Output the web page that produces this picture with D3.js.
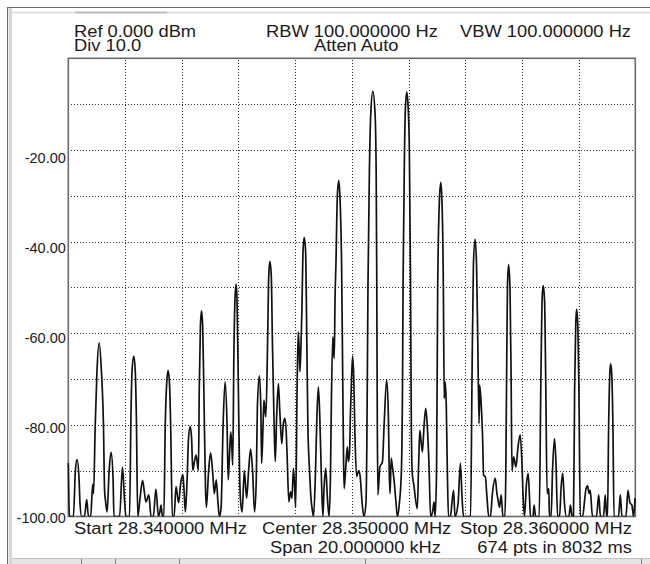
<!DOCTYPE html>
<html>
<head>
<meta charset="utf-8">
<script src="https://cdn.jsdelivr.net/npm/d3@7"></script>
<style>
  body { margin: 0; background: #fff; }
  svg { display: block; }
  text { font-family: "Liberation Sans", Arial, sans-serif; fill: #1a1a1a; }
</style>
</head>
<body>
<div id="chart"></div>
<script>
// instrument readouts around the screen
var headerTop = ["Ref 0.000 dBm", "RBW 100.000000 Hz", "VBW 100.000000 Hz"]
var headerBottom = ["Div 10.0", "Atten Auto"]
var footerTop = ["Start 28.340000 MHz", "Center 28.350000 MHz", "Stop 28.360000 MHz"]
var footerBottom = ["Span 20.000000 kHz", "674 pts in 8032 ms"]

// axes: frequency offset from start (kHz), level (dBm)
var spanKHz = [0, 20]
var levelRange = [-100, 0]
var yLabels = [-20, -40, -60, -80, -100]

// trace vertices: [kHz from start, dBm]
var trace = [
  [0.00, -88.3], [0.04, -100], [0.18, -100], [0.25, -90], [0.31, -87.6], [0.38, -92], [0.41, -96.8],
  [0.47, -100], [0.57, -100], [0.65, -96.3], [0.71, -100], [0.79, -100], [0.86, -93], [0.89, -95],
  [0.95, -80], [1.01, -68.5], [1.09, -62.1], [1.17, -68.5], [1.24, -80], [1.28, -94.3], [1.32, -97],
  [1.37, -99], [1.44, -90], [1.51, -86], [1.58, -92], [1.61, -100], [1.81, -100], [1.91, -89.2],
  [1.98, -96], [2.03, -100], [2.16, -100], [2.21, -78], [2.25, -68], [2.31, -65], [2.36, -68],
  [2.40, -78], [2.45, -100], [2.53, -96], [2.62, -92.1], [2.69, -95], [2.74, -96.8], [2.84, -95.3],
  [2.92, -100], [3.00, -100], [3.09, -94], [3.18, -100], [3.23, -99], [3.27, -97.5], [3.32, -100],
  [3.37, -100], [3.42, -80], [3.47, -71], [3.52, -68.1], [3.57, -71], [3.61, -80], [3.67, -100],
  [3.73, -100], [3.80, -93.5], [3.89, -97], [3.96, -93], [4.04, -90.8], [4.08, -94], [4.13, -99],
  [4.19, -92], [4.24, -83], [4.30, -80.4], [4.35, -83], [4.39, -89.9], [4.45, -88], [4.51, -86.6],
  [4.59, -90], [4.62, -72], [4.66, -58.5], [4.70, -55.1], [4.74, -58.5], [4.78, -72], [4.84, -94],
  [4.87, -98], [4.95, -90], [5.02, -86.1], [5.10, -91], [5.15, -95], [5.22, -92], [5.28, -97],
  [5.33, -100], [5.39, -98], [5.46, -80], [5.53, -70.6], [5.60, -80], [5.64, -92], [5.69, -86],
  [5.73, -81.5], [5.77, -85], [5.80, -88.8], [5.84, -65], [5.88, -52.5], [5.92, -49.3], [5.95, -52.5],
  [5.99, -68], [6.04, -90], [6.07, -96], [6.13, -99], [6.21, -90], [6.29, -96], [6.36, -90],
  [6.43, -85.3], [6.50, -90], [6.57, -99], [6.63, -92], [6.67, -76], [6.74, -69.3], [6.79, -76],
  [6.82, -88.4], [6.87, -80], [6.90, -74.6], [6.94, -77], [6.97, -78.2], [7.03, -62], [7.07, -47.5],
  [7.11, -44.3], [7.16, -47.5], [7.20, -62], [7.26, -80], [7.30, -88], [7.35, -78], [7.41, -71],
  [7.46, -77], [7.53, -84.1], [7.58, -80], [7.64, -78.6], [7.69, -82], [7.72, -87], [7.78, -96.8],
  [7.84, -94.6], [7.89, -96], [7.94, -89.5], [7.98, -93], [8.02, -98], [8.07, -72], [8.11, -59.7],
  [8.14, -63], [8.17, -68.4], [8.21, -62], [8.24, -55], [8.28, -42], [8.32, -39.1], [8.37, -42],
  [8.41, -60], [8.45, -80], [8.51, -90], [8.56, -96], [8.61, -98.7], [8.65, -100], [8.72, -90],
  [8.77, -78], [8.82, -71.7], [8.87, -78], [8.93, -92], [8.98, -100], [9.02, -94], [9.08, -89.5],
  [9.14, -96], [9.20, -100], [9.25, -90], [9.28, -75], [9.33, -60.8], [9.35, -63], [9.38, -65.5],
  [9.41, -52], [9.44, -45], [9.49, -30], [9.54, -26.7], [9.58, -30], [9.64, -45], [9.68, -70],
  [9.71, -88], [9.73, -93.9], [9.78, -90], [9.84, -84.8], [9.88, -88], [9.92, -86], [9.95, -78],
  [9.99, -70], [10.03, -65], [10.07, -70], [10.11, -82], [10.17, -91.3], [10.24, -90], [10.29, -91],
  [10.37, -97.5], [10.43, -100], [10.50, -97], [10.53, -85], [10.57, -50], [10.62, -25], [10.67, -12],
  [10.74, -7.2], [10.82, -12], [10.86, -25], [10.88, -48], [10.90, -80], [10.92, -95.3], [10.99, -89.2],
  [11.08, -88.1], [11.14, -80], [11.23, -70.2], [11.29, -78], [11.32, -90], [11.35, -95], [11.39, -87.3],
  [11.43, -89], [11.49, -92], [11.56, -97], [11.61, -100], [11.68, -97], [11.75, -90], [11.79, -70],
  [11.81, -48], [11.86, -20], [11.89, -11], [11.94, -7.4], [11.99, -11], [12.03, -20], [12.07, -48],
  [12.10, -80], [12.13, -90.3], [12.19, -93.2], [12.31, -98.3], [12.36, -88], [12.40, -81.2], [12.45, -84],
  [12.49, -85.9], [12.55, -80], [12.61, -76.4], [12.66, -80], [12.72, -88.1], [12.78, -100], [12.85, -99],
  [12.90, -96.8], [12.94, -100], [12.99, -90], [13.03, -50], [13.09, -31], [13.14, -27.1], [13.18, -31],
  [13.23, -50], [13.26, -74.2], [13.29, -70.6], [13.33, -75], [13.37, -90], [13.41, -100], [13.48, -100],
  [13.53, -97.2], [13.59, -94.3], [13.64, -100], [13.75, -97], [13.83, -88.4], [13.89, -96], [13.94, -100],
  [14.19, -100], [14.24, -70], [14.29, -45], [14.35, -39.5], [14.40, -45], [14.44, -60], [14.49, -79.7],
  [14.51, -71.3], [14.56, -75], [14.61, -82], [14.65, -91], [14.71, -91.3], [14.77, -96], [14.83, -100],
  [14.89, -100], [14.96, -95], [15.06, -91.7], [15.12, -95], [15.16, -96.4], [15.21, -98], [15.27, -95.3],
  [15.33, -100], [15.40, -100], [15.43, -92], [15.46, -70], [15.49, -50], [15.53, -45], [15.58, -50],
  [15.62, -70], [15.65, -90], [15.71, -87], [15.79, -89.2], [15.86, -85], [15.94, -82.2], [16.00, -88],
  [16.04, -95.3], [16.09, -100], [16.16, -93], [16.22, -90.6], [16.27, -96], [16.30, -100], [16.39, -100],
  [16.43, -97.5], [16.48, -100], [16.61, -100], [16.67, -70], [16.71, -53], [16.75, -49.6], [16.80, -53],
  [16.84, -70], [16.89, -95], [16.95, -93.9], [16.97, -100], [17.03, -100], [17.08, -90], [17.15, -83],
  [17.20, -88], [17.26, -100], [17.33, -100], [17.38, -94], [17.44, -90.6], [17.50, -97], [17.57, -100],
  [17.66, -100], [17.71, -97.5], [17.77, -100], [17.82, -100], [17.86, -72], [17.90, -58], [17.93, -54.8],
  [17.97, -58], [18.01, -72], [18.06, -100], [18.14, -100], [18.22, -96], [18.26, -94], [18.32, -93.3],
  [18.37, -95], [18.41, -94.3], [18.49, -100], [18.63, -100], [18.71, -95.3], [18.77, -100], [18.88, -100],
  [18.94, -95.3], [18.99, -100], [19.02, -100], [19.06, -80], [19.10, -69], [19.13, -66.7], [19.17, -69],
  [19.21, -80], [19.25, -100], [19.41, -100], [19.47, -95.3], [19.53, -100], [19.67, -100], [19.74, -94.3],
  [19.81, -97], [19.88, -97.5], [19.94, -100], [19.99, -96]
]

var W = 650, H = 564
var margin = { top: 58.3, right: 14.7, bottom: 47.5, left: 68.3 }
var width = W - margin.left - margin.right,
  height = H - margin.top - margin.bottom

var svg = d3.select("#chart").append("svg")
  .attr("width", W)
  .attr("height", H)

// window frame
svg.append("rect").attr("x", 8.5).attr("y", 8).attr("width", 3.5).attr("height", H - 8).attr("fill", "#d6d6d6")
svg.append("line").attr("x1", 12).attr("x2", W).attr("y1", 12.5).attr("y2", 12.5)
  .attr("stroke", "#d8d8d8").attr("stroke-width", 1.5)
svg.append("line").attr("x1", 75).attr("x2", 167).attr("y1", 12.5).attr("y2", 12.5)
  .attr("stroke", "#b4b4b4").attr("stroke-width", 1.5)
svg.append("line").attr("x1", 7).attr("x2", W).attr("y1", 7.5).attr("y2", 7.5).attr("stroke", "#6e6e6e")
svg.append("line").attr("x1", 7.5).attr("x2", 7.5).attr("y1", 7).attr("y2", H).attr("stroke", "#6e6e6e")
svg.append("rect").attr("x", 12).attr("y", 558.5).attr("width", W - 12).attr("height", 6).attr("fill", "#e4e4e4")
svg.append("line").attr("x1", 12).attr("x2", W).attr("y1", 558.5).attr("y2", 558.5).attr("stroke", "#c4c4c4")
svg.selectAll(".sep")
  .data([81, 115, 179, 365, 641])
  .enter().append("line")
  .attr("class", "sep")
  .attr("x1", function (d) { return d + 0.5 })
  .attr("x2", function (d) { return d + 0.5 })
  .attr("y1", 559).attr("y2", H)
  .attr("stroke", "#808080")

var g = svg.append("g")
  .attr("transform", "translate(" + margin.left + "," + margin.top + ")")

// scales
var xPositionScale = d3.scaleLinear().domain(spanKHz).range([0, width])
var yPositionScale = d3.scaleLinear().domain(levelRange).range([height, 0])
// the readout labels sit a touch off the graticule lines
var yLabelScale = d3.scaleLinear().domain([-100, -20]).range([459.2, 99.4])

// graticule
var xGrid = d3.axisBottom(xPositionScale)
  .tickValues(xPositionScale.ticks(10).slice(1, -1))
  .tickSize(-height)
  .tickFormat("")
g.append("g")
  .attr("class", "grid x-grid")
  .attr("transform", "translate(0," + height + ")")
  .call(xGrid)

var yGrid = d3.axisLeft(yPositionScale)
  .tickValues(yPositionScale.ticks(10).slice(1, -1))
  .tickSize(-width)
  .tickFormat("")
g.append("g")
  .attr("class", "grid y-grid")
  .call(yGrid)

g.selectAll(".grid .domain").remove()
g.selectAll(".grid line")
  .attr("stroke", "#2a2a2a")
  .attr("stroke-dasharray", "1,2")
  .attr("shape-rendering", "crispEdges")

// left readout labels
var yAxis = d3.axisLeft(yLabelScale)
  .tickValues(yLabels)
  .tickSize(0)
  .tickPadding(2.5)
  .tickFormat(function (d) { return d.toFixed(2) })
g.append("g")
  .attr("class", "axis y-axis")
  .call(yAxis)
g.select(".y-axis .domain").remove()
g.selectAll(".y-axis text")
  .attr("font-size", "14.5px")
  .attr("font-family", null)
  .attr("fill", "#1a1a1a")

// plot box
g.append("rect")
  .attr("width", width)
  .attr("height", height)
  .attr("fill", "none")
  .attr("stroke", "#6a6a6a")
  .attr("stroke-width", 1.6)

// trace
g.append("clipPath").attr("id", "plot-clip")
  .append("rect").attr("x", -1).attr("y", -1).attr("width", width + 2).attr("height", height + 1)

var line = d3.line()
  .x(function (d) { return xPositionScale(d[0]) })
  .y(function (d) { return yPositionScale(d[1]) })
  .curve(d3.curveMonotoneX)

g.append("path")
  .datum(trace)
  .attr("clip-path", "url(#plot-clip)")
  .attr("d", line)
  .attr("fill", "none")
  .attr("stroke", "#111")
  .attr("stroke-width", 1.7)
  .attr("stroke-linejoin", "round")

// readout text, slightly wide like the instrument font
function readout(str, x, y, anchor) {
  svg.append("text")
    .attr("transform", "translate(" + x + "," + y + ") scale(1.11,1)")
    .attr("text-anchor", anchor || "start")
    .attr("font-size", "16.5px")
    .text(str)
}

readout(headerTop[0], 74, 36.5)
readout(headerTop[1], 266, 36.5)
readout(headerTop[2], 631, 36.5, "end")
readout(headerBottom[0], 74, 51)
readout(headerBottom[1], 314, 51)

readout(footerTop[0], 74, 534)
readout(footerTop[1], 262, 534)
readout(footerTop[2], 632, 534, "end")
readout(footerBottom[0], 270, 553)
readout(footerBottom[1], 632, 553, "end")
</script>
</body>
</html>
